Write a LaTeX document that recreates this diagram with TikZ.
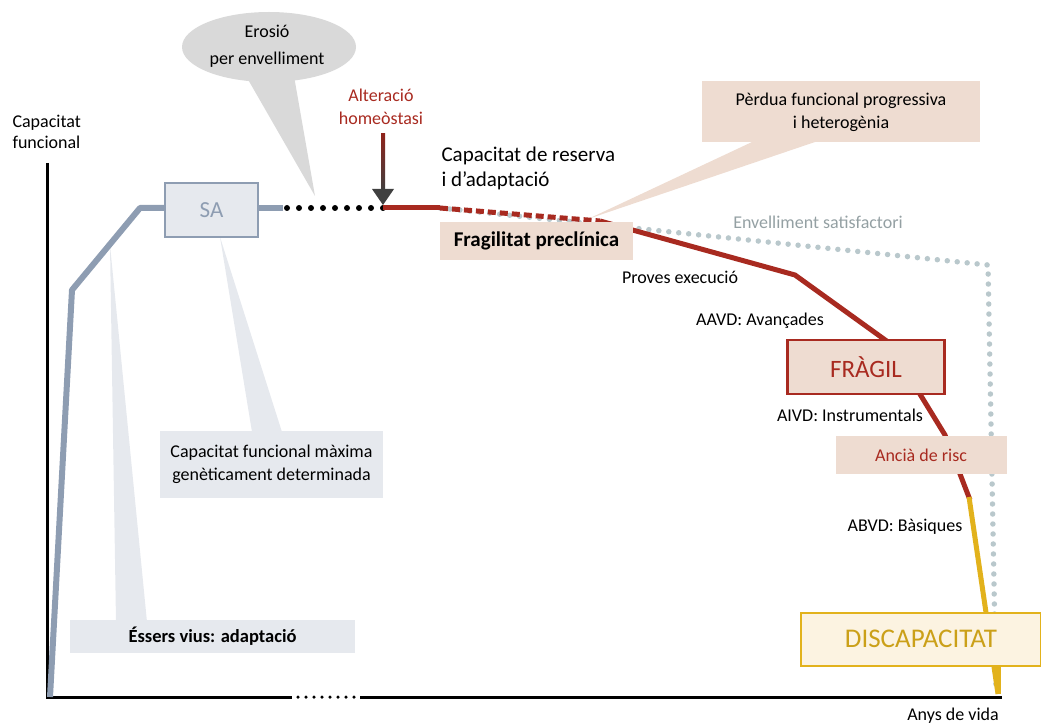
\documentclass[tikz,border=0pt]{standalone}
\usepackage{fontspec}
\setmainfont{Carlito}
\usetikzlibrary{arrows.meta}
\definecolor{pizarra}{HTML}{8E9DB2}
\definecolor{grisclar}{HTML}{E6E9EE}
\definecolor{vermell}{HTML}{A82A20}
\definecolor{rosat}{HTML}{EEDCD1}
\definecolor{groc}{HTML}{E2B21C}
\definecolor{crema}{HTML}{FCF3E1}
\definecolor{puntgris}{HTML}{B9C8CC}
\definecolor{bombolla}{HTML}{D9D9D9}

\begin{document}
\begin{tikzpicture}[x=1pt,y=-1pt,
    lbl/.style={font=\fontsize{18}{23}\selectfont, align=center},
    caixa/.style={inner sep=0pt, align=center},
    punts/.style={line cap=round, dash pattern=on 0pt off #1},
    punts/.default=12pt]
\useasboundingbox (0,0) rectangle (1041,727);

% cues de les bafarades
\fill[grisclar] (116,622) -- (110,245) -- (147,622) -- cycle;
\fill[grisclar] (252,432) -- (220,237) -- (282,432) -- cycle;
\fill[rosat] (752,142) -- (588,219) -- (815,142) -- cycle;
\fill[bombolla] (246,76) -- (315,196) -- (294,76) -- cycle;
\fill[bombolla] (269,47) ellipse [x radius=87, y radius=35];
\node[lbl, font=\fontsize{18}{27}\selectfont] (erosio) at (267,46) {Erosió\\per envelliment};

% eixos
\draw[line width=3pt] (47,163) -- (47,697) -- (292,697);
\draw[line width=3.5pt, punts=8pt] (298,697) -- (356,697);
\draw[line width=3pt] (360,697) -- (1002,697);

% corbes
\draw[pizarra, line width=6pt, line join=round] (50,697) -- (72,290) -- (140,208) -- (200,208);
\draw[pizarra, line width=6pt] (230,208) -- (283,208);
\draw[black, line width=6pt, punts] (287,208) -- (383,208);
\draw[puntgris, line width=5.5pt, punts=10pt] (440,208) -- (633,228) -- (988,265) -- (996,690);
\draw[vermell, line width=5pt] (383,208) -- (440,208);
\draw[vermell, line width=5pt, dash pattern=on 8pt off 4pt] (440,208) -- (600,221);
\draw[vermell, line width=5pt, line join=round] (600,221) -- (795,275) -- (888,342)
    -- (945,435) -- (970,500);
\draw[groc, line width=5pt] (969,497) -- (998,694);

% fletxa
\shade[top color=vermell!85!black, bottom color=black!75] (381,134) rectangle (385,191);
\fill[black!75] (372,189) -- (394,189) -- (383,205) -- cycle;

% caixes
\node[caixa, draw=pizarra, line width=1.5pt, fill=grisclar, minimum width=93pt, minimum height=54pt,
    font=\fontsize{23}{25}\selectfont, text=pizarra] (sa) at (211.5,210) {SA};
\node[caixa, fill=grisclar, minimum width=223pt, minimum height=67pt, lbl] (maxima) at (271.5,464)
    {Capacitat funcional màxima\\genèticament determinada};
\node[caixa, fill=grisclar, minimum width=285pt, minimum height=33pt,
    font=\fontsize{18.5}{20}\selectfont\bfseries] (vius) at (212.5,636) {Éssers vius: adaptació};
\node[caixa, fill=rosat, minimum width=278pt, minimum height=61pt, lbl] (perdua) at (841,112)
    {Pèrdua funcional progressiva\\i heterogènia};
\node[caixa, fill=rosat, minimum width=193pt, minimum height=38pt,
    font=\fontsize{21}{23}\selectfont\bfseries] (precli) at (536.5,241) {Fragilitat preclínica};
\node[caixa, draw=vermell, line width=2.5pt, fill=rosat, minimum width=157pt, minimum height=54pt,
    font=\fontsize{25}{27}\selectfont, text=vermell] (fragil) at (866,367) {FRÀGIL};
\node[caixa, fill=rosat, minimum width=171pt, minimum height=38pt, lbl, text=vermell]
    (risc) at (921,455) {Ancià de risc};
\node[caixa, draw=groc, line width=2pt, fill=crema, minimum width=240pt, minimum height=53pt,
    font=\fontsize{27}{29}\selectfont, text=groc!90!black] (disc) at (921,639) {DISCAPACITAT};
\draw[groc, line width=5pt] (998,666) -- (998,694);

% textos
\node[lbl, align=left, anchor=north west, font=\fontsize{18}{21}\selectfont] (ylab) at (9,112)
    {Capacitat\\funcional};
\node[lbl] (xlab) at (953,716) {Anys de vida};
\node[lbl, text=vermell] (homeo) at (381,107) {Alteració\\homeòstasi};
\node[align=left, anchor=north west, font=\fontsize{21}{25}\selectfont] (reserva) at (438,143)
    {Capacitat de reserva\\i d’adaptació};
\node[lbl, text=puntgris!80!black] (satisf) at (818,222) {Envelliment satisfactori};
\node[lbl] (proves) at (680,277) {Proves execució};
\node[lbl] (aavd) at (760,321) {AAVD: Avançades};
\node[lbl] (aivd) at (850,415) {AIVD: Instrumentals};
\node[lbl] (abvd) at (905,527) {ABVD: Bàsiques};
\end{tikzpicture}
\end{document}
